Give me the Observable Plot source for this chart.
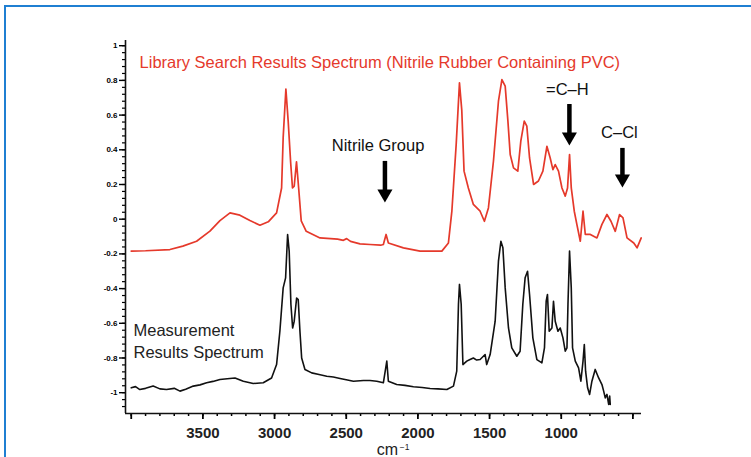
<!DOCTYPE html>
<html>
<head>
<meta charset="utf-8">
<script src="https://cdn.jsdelivr.net/npm/d3@7"></script>
<script src="https://cdn.jsdelivr.net/npm/@observablehq/plot@0.6"></script>
<style>
  html, body { margin: 0; padding: 0; background: #fff; }
  #wrap { position: relative; width: 751px; height: 457px; overflow: hidden; }
  #frame { position: absolute; left: 4px; top: 5px; width: 760px; height: 470px;
           border-top: 2px solid #1f7fd2; border-left: 2px solid #1f7fd2; pointer-events: none; }
  svg { display: block; }
</style>
</head>
<body>
<div id="wrap"><div id="frame"></div></div>
<script>
// Library search result spectrum (red), wavenumber (cm-1) and value
const libWn = [4000, 3900, 3730, 3640, 3544, 3451, 3381, 3311, 3242, 3172, 3102, 3044, 2986, 2951, 2940, 2921, 2905, 2888, 2875, 2863, 2847, 2832, 2814, 2779, 2683, 2560, 2520, 2497, 2470, 2404, 2334, 2260, 2241, 2222, 2206, 2101, 1985, 1833, 1787, 1763, 1733, 1710, 1694, 1678, 1648, 1613, 1566, 1536, 1508, 1473, 1438, 1414, 1391, 1372, 1356, 1333, 1303, 1282, 1258, 1240, 1221, 1193, 1159, 1128, 1100, 1077, 1058, 1042, 1019, 995, 972, 956, 942, 930, 909, 891, 867, 848, 832, 797, 751, 716, 681, 653, 623, 593, 569, 541, 494, 471, 442];
const libVal = [-0.184, -0.182, -0.175, -0.155, -0.127, -0.069, -0.008, 0.036, 0.023, -0.008, -0.035, -0.015, 0.036, 0.18, 0.47, 0.75, 0.565, 0.33, 0.18, 0.19, 0.33, 0.18, -0.01, -0.07, -0.108, -0.115, -0.122, -0.112, -0.128, -0.142, -0.146, -0.15, -0.146, -0.088, -0.137, -0.165, -0.184, -0.184, -0.137, 0.046, 0.43, 0.786, 0.63, 0.277, 0.18, 0.085, 0.046, -0.012, 0.065, 0.334, 0.68, 0.805, 0.767, 0.565, 0.373, 0.296, 0.277, 0.45, 0.565, 0.536, 0.353, 0.2, 0.22, 0.277, 0.42, 0.353, 0.286, 0.315, 0.277, 0.18, 0.133, 0.18, 0.373, 0.18, 0.046, -0.03, -0.127, 0.046, -0.088, -0.088, -0.108, -0.03, 0.027, -0.012, -0.07, 0.027, 0.008, -0.108, -0.137, -0.165, -0.108];

// Measurement result spectrum (black)
const measWn = [4000, 3970, 3940, 3900, 3847, 3800, 3754, 3700, 3660, 3620, 3567, 3520, 3474, 3430, 3381, 3330, 3276, 3218, 3149, 3079, 3021, 2986, 2963, 2940, 2923, 2909, 2898, 2886, 2874, 2863, 2846, 2835, 2823, 2811, 2788, 2741, 2690, 2636, 2590, 2543, 2500, 2450, 2380, 2334, 2287, 2241, 2217, 2206, 2148, 2090, 2031, 1970, 1915, 1860, 1798, 1752, 1729, 1717, 1710, 1698, 1686, 1659, 1640, 1613, 1590, 1566, 1531, 1520, 1496, 1461, 1438, 1421, 1407, 1391, 1368, 1345, 1310, 1287, 1268, 1252, 1235, 1221, 1198, 1170, 1135, 1117, 1105, 1096, 1084, 1065, 1054, 1042, 1023, 1007, 988, 972, 960, 953, 942, 930, 921, 902, 879, 863, 848, 839, 830, 816, 802, 786, 763, 739, 716, 704, 693, 681, 669, 662, 658];
const measVal = [-0.972, -0.965, -0.982, -0.975, -0.962, -0.978, -0.982, -0.975, -0.991, -0.98, -0.962, -0.955, -0.943, -0.935, -0.924, -0.92, -0.915, -0.934, -0.947, -0.943, -0.915, -0.838, -0.646, -0.396, -0.338, -0.088, -0.184, -0.49, -0.627, -0.588, -0.454, -0.463, -0.646, -0.8, -0.866, -0.886, -0.895, -0.905, -0.91, -0.918, -0.925, -0.934, -0.93, -0.93, -0.934, -0.943, -0.818, -0.934, -0.953, -0.958, -0.966, -0.97, -0.976, -0.978, -0.982, -0.962, -0.876, -0.49, -0.376, -0.49, -0.838, -0.818, -0.81, -0.8, -0.812, -0.809, -0.78, -0.838, -0.78, -0.588, -0.242, -0.127, -0.165, -0.396, -0.627, -0.742, -0.79, -0.761, -0.49, -0.338, -0.3, -0.434, -0.684, -0.809, -0.828, -0.742, -0.473, -0.434, -0.646, -0.627, -0.473, -0.588, -0.646, -0.627, -0.684, -0.761, -0.742, -0.49, -0.184, -0.396, -0.742, -0.818, -0.857, -0.934, -0.818, -0.722, -0.876, -0.972, -1.01, -0.934, -0.866, -0.915, -0.953, -0.991, -1.03, -1.01, -1.068, -1.02, -1.068];

// Axis ticks
const xMajorTicks = [4000, 3500, 3000, 2500, 2000, 1500, 1000, 500];
const xTickLabels = ["", "3500", "3000", "2500", "2000", "1500", "1000", ""];
const xMinorTicks = d3.range(4000, 499, -100);
const yMajorTicks = [1, 0.8, 0.6, 0.4, 0.2, 0, -0.2, -0.4, -0.6, -0.8, -1];
const yTickLabels = ["1", "0.8", "0.6", "0.4", "0.2", "0", "-0.2", "-0.4", "-0.6", "-0.8", "-1"];
const yMinorTicks = d3.range(-1.08, 1.001, 0.04).map(v => Math.round(v * 100) / 100);

// Annotations
const labelTexts = ["Nitrile Group", "=C\u2013H", "C\u2013Cl"];
const labelWn = [2278, 957, 594];
const labelVal = [0.425, 0.748, 0.5];
const arrowWn = [2230, 943, 573];
const arrowTop = [0.333, 0.661, 0.408];
const arrowTip = [0.096, 0.425, 0.183];

const titleText = "Library Search Results Spectrum (Nitrile Rubber Containing PVC)";
const measLabelLines = ["Measurement", "Results Spectrum"];
const unitText = "cm";
const unitSup = "\u22121";

const lib = libWn.map((w, i) => ({w, v: libVal[i]}));
const meas = measWn.map((w, i) => ({w, v: measVal[i]}));
const labels = labelTexts.map((t, i) => ({t, w: labelWn[i], v: labelVal[i]}));
const arrows = arrowWn.map((w, i) => ({w, y1: arrowTop[i], y2: arrowTip[i]}));

const X0 = 4040, X1 = 440, Y0 = -1.12, Y1 = 1.03;
const font = "'Liberation Sans', Arial, sans-serif";
const red = "#e5392b";

const chart = Plot.plot({
  width: 751,
  height: 457,
  marginLeft: 125,
  marginRight: 110,
  marginTop: 40,
  marginBottom: 44,
  style: {fontFamily: font, background: "transparent"},
  x: {domain: [X0, X1], label: null},
  y: {domain: [Y0, Y1], label: null},
  marks: [
    // minor ticks
    Plot.axisY({ticks: yMinorTicks, tickSize: 3, tickFormat: () => "", strokeWidth: 1.2, label: null}),
    Plot.axisX({ticks: xMinorTicks, tickSize: 3, tickFormat: () => "", strokeWidth: 1.5, label: null}),
    // major ticks
    Plot.axisY({ticks: yMajorTicks, tickSize: 6, tickPadding: 2, strokeWidth: 1.4, label: null,
      tickFormat: d => yTickLabels[yMajorTicks.indexOf(d)], fontSize: 8, fontWeight: "bold"}),
    Plot.axisX({ticks: xMajorTicks, tickSize: 6, tickPadding: 8, strokeWidth: 1.8, label: null,
      tickFormat: d => xTickLabels[xMajorTicks.indexOf(d)], fontSize: 15, fontWeight: "bold", fill: "#222"}),
    // axis lines
    Plot.ruleX([X0], {stroke: "#111", strokeWidth: 1.6}),
    Plot.ruleY([Y0], {stroke: "#111", strokeWidth: 1.6}),
    // spectra
    Plot.line(lib, {x: "w", y: "v", stroke: red, strokeWidth: 1.7, curve: "linear"}),
    Plot.line(meas, {x: "w", y: "v", stroke: "#111", strokeWidth: 1.6, curve: "linear"}),
    // title inside plot
    Plot.text([titleText], {x: 3942, y: 0.903, text: d => d, textAnchor: "start", fill: red, fontSize: 16.5}),
    // measurement label
    Plot.text(measLabelLines, {x: 3984, y: (d, i) => [-0.641, -0.768][i], text: d => d, textAnchor: "start", fill: "#222", fontSize: 16.5}),
    // annotation labels
    Plot.text(labels, {x: "w", y: "v", text: "t", fill: "#111", fontSize: 16.5}),
    // arrows
    Plot.ruleX(arrows, {x: "w", y1: "y1", y2: "y2", stroke: "#000", strokeWidth: 4.5, insetBottom: 9}),
    Plot.dot(arrows, {x: "w", y: "y2", symbol: "triangle", rotate: 180, r: 5.6, fill: "#000", stroke: "none", dy: -8.7}),
    // x unit label
    Plot.text([unitText], {x: 2212, y: Y0, text: d => d, dy: 36, fontSize: 16, fill: "#222"}),
    Plot.text([unitSup], {x: 2212, y: Y0, text: d => d, dx: 17, dy: 34, fontSize: 8.5, fill: "#222"})
  ]
});

document.getElementById("wrap").prepend(chart);
</script>
</body>
</html>
